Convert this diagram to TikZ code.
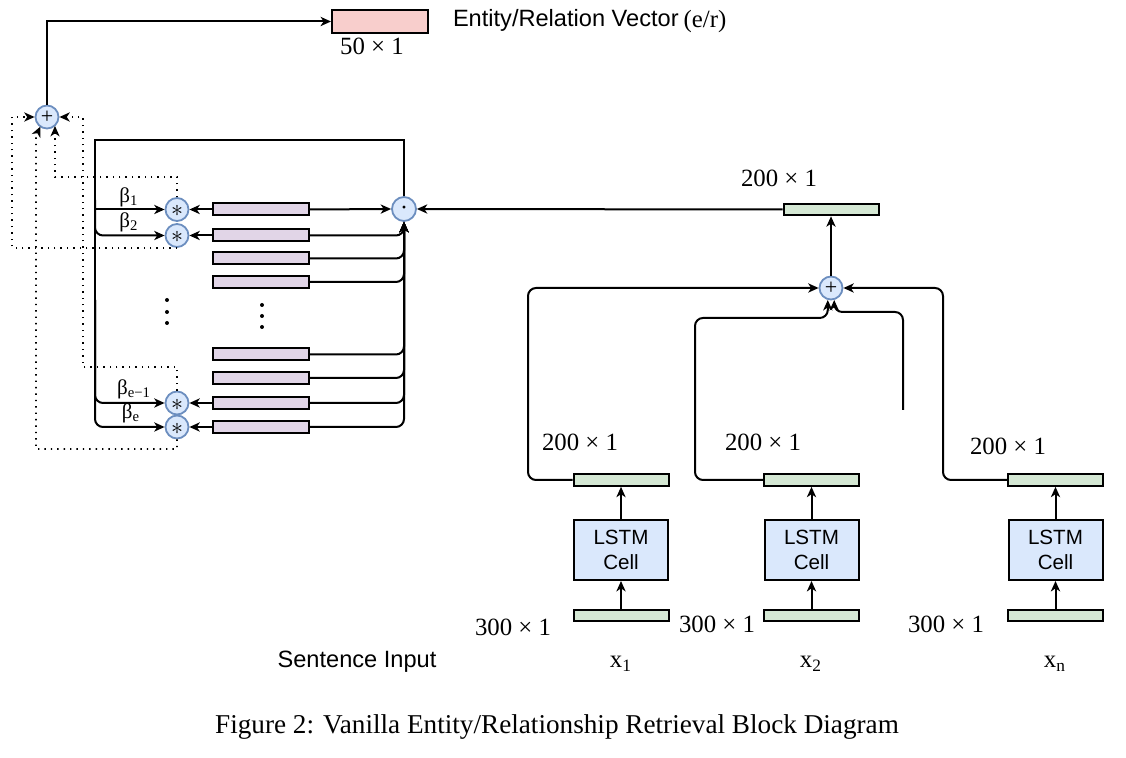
\documentclass[tikz,border=0pt]{standalone}
\usepackage{fontspec}
\setmainfont{Liberation Serif}
\newfontfamily\arialf{Liberation Sans}
\usetikzlibrary{arrows.meta,calc}
\definecolor{cblue}{HTML}{DAE8FC}
\definecolor{cbluestroke}{HTML}{6C8EBF}
\definecolor{cpurple}{HTML}{E1D5E7}
\definecolor{cgreen}{HTML}{D5E8D4}
\definecolor{cpink}{HTML}{F8CECC}
\begin{document}
\begin{tikzpicture}[x=0.5pt,y=-0.5pt, line width=1pt,
  arr/.style={-{Stealth[length=5.2pt,width=4.6pt,inset=1.5pt]}},
  dotarr/.style={arr, line width=0.8pt, dash pattern=on 0.7pt off 2.5pt},
  rc/.style={rounded corners=4pt},
  op/.style={circle, draw=cbluestroke, fill=cblue, minimum size=11.5pt, inner sep=0pt, line width=0.9pt},
  vecp/.style={draw=black, fill=cpurple, minimum width=48pt, minimum height=6pt, inner sep=0pt},
  vecg/.style={draw=black, fill=cgreen, minimum width=47.5pt, minimum height=5.8pt, inner sep=0pt},
  vecr/.style={draw=black, fill=cpink, minimum width=48pt, minimum height=11.5pt, inner sep=0pt},
  lstm/.style={draw=black, fill=cblue, minimum width=47pt, minimum height=30pt, inner sep=0pt, align=center, font=\arialf\fontsize{10.3}{12.5}\selectfont},
  dim/.style={font=\fontsize{12.4}{14}\selectfont, inner sep=0pt},
  sans/.style={font=\arialf\fontsize{11.8}{14}\selectfont, inner sep=0pt},
  beta/.style={font=\fontsize{10.5}{12}\selectfont, inner sep=0pt},
  sym/.style={font=\fontsize{11}{12}\selectfont, inner sep=0pt},
  vdot/.style={circle, fill=black, inner sep=0pt, minimum size=2pt}
]
\useasboundingbox (0,0) rectangle (1126,758);

% ---------- top output ----------
\node[vecr] (E) at (380,21.5) {};
\node[dim] (Elab) at (372,46) {50 × 1};
\node[sans, anchor=west] (Etxt) at (452,20) {Entity/Relation Vector};
\node[dim] (Eer) at (705,22) {(e/r)};
\node[op] (P1) at (47,117) {};
\node[sym] (P1s) at (P1) {+};
\draw[arr] (P1.north) |- (E.west);

% ---------- attention block ----------
\node[op, minimum size=12pt] (D) at (404,209) {};
\node[font=\fontsize{12}{12}\selectfont, inner sep=0pt] (Ds) at (404,210.5) {·};

\foreach \i/\y in {1/209.5,2/235.5,3/258.5,4/282,5/354.5,6/378,7/403,8/427}{
  \node[vecp] (R\i) at (261,\y) {};
}
\node[op] (S1) at (177,209.5) {};
\node[op] (S2) at (177,235.5) {};
\node[op] (S3) at (177,403) {};
\node[op] (S4) at (177,427) {};
\foreach \s in {S1,S2,S3,S4}{
  \node[font=\fontsize{12.5}{12.5}\selectfont, inner sep=0pt] at ($(\s)+(0,1.5)$) {$\ast$};
}

% rect -> star
\draw[arr] (R1.west) -- (S1.east);
\draw[arr] (R2.west) -- (S2.east);
\draw[arr] (R7.west) -- (S3.east);
\draw[arr] (R8.west) -- (S4.east);

% rect -> dot
\draw[arr] (R1.east) -- (D.west);
\foreach \i in {2,...,8}{
  \draw[arr, rc] (R\i.east) -| (D.south);
}

% dot -> frame -> betas
\draw (D.north) |- (95,140) -- (95,300);
\draw[arr] (95,209.5) -- (S1.west);
\draw[arr, rc] (95,200) |- (S2.west);
\draw[arr, rc] (95,300) |- (S3.west);
\draw[arr, rc] (95,300) |- (S4.west);
\node[beta] (b1) at (129,197) {β\textsubscript{1}};
\node[beta] (b2) at (129,222) {β\textsubscript{2}};
\node[beta] (b3) at (134,389) {β\textsubscript{e−1}};
\node[beta] (b4) at (131,413) {β\textsubscript{e}};

% vertical ellipses
\foreach \y in {300,312,323}{ \node[vdot] at (167,\y) {}; }
\foreach \y in {305,316,327}{ \node[vdot] at (262,\y) {}; }

% dotted returns to P1
\coordinate (p1r) at ($(P1)+(8,9)$);
\coordinate (p1l) at ($(P1)+(-6.5,9.5)$);
\draw[dotarr] (S1.north) |- (55,177) -- (p1r);
\draw[dotarr] (S2.south) -| (12,117) -- (P1.west);
\draw[dotarr] (S3.north) |- (83,367) -- (83,117) -- (P1.east);
\draw[dotarr] (S4.south) |- (36,449) -- (36,136) -- (p1l);

% ---------- right: LSTM encoder ----------
\node[vecg] (G0) at (831,209.5) {};
\node[dim] (G0l) at (779,178) {200 × 1};
\draw[arr] (G0.west) -- (D.east);
\node[op] (P2) at (831,288) {};
\node[sym] (P2s) at (P2) {+};
\draw[arr] (P2.north) -- (G0.south);

\foreach \n/\x in {1/621,2/811.5,3/1055.5}{
  \node[vecg] (G\n) at (\x,480) {};
  \node[lstm] (L\n) at (\x,550) {LSTM\\Cell};
  \node[vecg] (B\n) at (\x,615.5) {};
  \draw[arr] (L\n.north) -- (G\n.south);
  \draw[arr] (B\n.north) -- (L\n.south);
}
\node[dim] at (580,442) {200 × 1};
\node[dim] at (763,442) {200 × 1};
\node[dim] at (1008,446) {200 × 1};
\node[dim] at (513,627) {300 × 1};
\node[dim] at (717,624) {300 × 1};
\node[dim] at (946,624) {300 × 1};
\node[dim] at (621,664) {x\textsubscript{1}};
\node[dim] at (811,664) {x\textsubscript{2}};
\node[dim] at (1055,664) {x\textsubscript{n}};
\node[sans] at (357,662) {Sentence Input};

\draw[arr, rc] (G1.west) -- (528,480) |- (P2.west);
\draw[arr, rc] (G3.west) -- (943,480) |- (P2.east);
\draw[arr, rc] (G2.west) -- (695,480) |- ($(P2.255)+(0,18)$) -- (P2.255);
\coordinate (dang) at (903,410);
\draw[arr, rc] (dang) |- ($(P2.285)+(0,12)$) -- (P2.285);

% caption
\node[font=\fontsize{13.6}{16}\selectfont, inner sep=0pt] (cap) at (557,727) {Figure 2: Vanilla Entity/Relationship Retrieval Block Diagram};
\end{tikzpicture}
\end{document}
